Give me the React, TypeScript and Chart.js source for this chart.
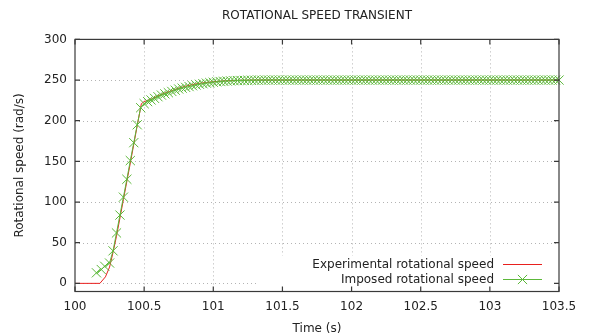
import { useEffect, useRef } from "react";
import { Chart, registerables } from "chart.js";

Chart.register(...registerables);

const chartTitle = "ROTATIONAL SPEED TRANSIENT";
const xAxisTitle = "Time (s)";
const yAxisTitle = "Rotational speed (rad/s)";
const seriesNames = ["Experimental rotational speed", "Imposed rotational speed"];

const xTicks = [100, 100.5, 101, 101.5, 102, 102.5, 103, 103.5];
const xTickLabels = ["100", "100.5", "101", "101.5", "102", "102.5", "103", "103.5"];
const yTicks = [0, 50, 100, 150, 200, 250, 300];
const yTickLabels = ["0", "50", "100", "150", "200", "250", "300"];

const expTime = [
  100, 100.18, 100.22, 100.25, 100.275, 100.3, 100.35, 100.4, 100.45, 100.48,
  100.5, 100.55, 100.6, 100.65, 100.7, 100.75, 100.8, 100.85, 100.9, 100.95,
  101, 101.1, 101.2, 101.3, 101.5, 102, 102.5, 103, 103.5,
];
const expSpeed = [
  0, 0, 8, 20, 38, 58, 103, 148, 194, 221,
  223.5, 226.5, 230.5, 234, 237, 240, 242.5, 244.5, 246, 247,
  248, 249.2, 249.7, 250, 250, 250, 250, 250, 250,
];

const impTime = [
  100.155, 100.19, 100.215, 100.25,
  100.275, 100.3, 100.325, 100.35, 100.375, 100.4, 100.425, 100.45, 100.475, 100.5,
  100.525, 100.55, 100.575, 100.6, 100.625, 100.65, 100.675, 100.7, 100.725, 100.75,
  100.775, 100.8, 100.825, 100.85, 100.875, 100.9, 100.925, 100.95, 100.975, 101,
  101.025, 101.05, 101.075, 101.1, 101.125, 101.15, 101.175, 101.2, 101.225, 101.25,
  101.275, 101.3, 101.325, 101.35, 101.375, 101.4, 101.425, 101.45, 101.475, 101.5,
  101.525, 101.55, 101.575, 101.6, 101.625, 101.65, 101.675, 101.7, 101.725, 101.75,
  101.775, 101.8, 101.825, 101.85, 101.875, 101.9, 101.925, 101.95, 101.975, 102,
  102.025, 102.05, 102.075, 102.1, 102.125, 102.15, 102.175, 102.2, 102.225, 102.25,
  102.275, 102.3, 102.325, 102.35, 102.375, 102.4, 102.425, 102.45, 102.475, 102.5,
  102.525, 102.55, 102.575, 102.6, 102.625, 102.65, 102.675, 102.7, 102.725, 102.75,
  102.775, 102.8, 102.825, 102.85, 102.875, 102.9, 102.925, 102.95, 102.975, 103,
  103.025, 103.05, 103.075, 103.1, 103.125, 103.15, 103.175, 103.2, 103.225, 103.25,
  103.275, 103.3, 103.325, 103.35, 103.375, 103.4, 103.425, 103.45, 103.475, 103.5,
];
const impSpeed = [
  13, 17, 21, 25,
  40, 62, 84, 106, 128, 151, 173, 195, 216, 221,
  223.5, 225.5, 227.5, 229.5, 231.5, 233, 234.5, 236, 237.5, 239,
  240, 241, 242, 243, 244, 244.8, 245.5, 246.2, 246.8, 247.3,
  247.8, 248.2, 248.5, 248.8, 249, 249.2, 249.4, 249.5, 249.6, 249.7,
  249.8, 249.8, 249.9, 249.9, 250, 250, 250, 250, 250, 250,
  250, 250, 250, 250, 250, 250, 250, 250, 250, 250,
  250, 250, 250, 250, 250, 250, 250, 250, 250, 250,
  250, 250, 250, 250, 250, 250, 250, 250, 250, 250,
  250, 250, 250, 250, 250, 250, 250, 250, 250, 250,
  250, 250, 250, 250, 250, 250, 250, 250, 250, 250,
  250, 250, 250, 250, 250, 250, 250, 250, 250, 250,
  250, 250, 250, 250, 250, 250, 250, 250, 250, 250,
  250, 250, 250, 250, 250, 250, 250, 250, 250, 250,
];

const FONT = "DejaVu Sans";
const TEXT = "#222222";
const RED = "#e8201e";
const GREEN = "#5cb83a";
const MARKER_R = 6.5;

const framePlugin = {
  id: "gnuplotFrame",
  beforeDatasetsDraw(chart: any) {
    const { ctx, chartArea } = chart;
    const { left, right, top, bottom } = chartArea;
    const xs = chart.scales.x;
    const ys = chart.scales.y;
    ctx.save();
    ctx.strokeStyle = "#b4b4b4";
    ctx.lineWidth = 1;
    ctx.setLineDash([1, 3]);
    xTicks.forEach((v) => {
      const px = Math.round(xs.getPixelForValue(v)) + 0.5;
      if (px <= left + 1 || px >= right - 1) return;
      ctx.beginPath();
      ctx.moveTo(px, top);
      ctx.lineTo(px, bottom);
      ctx.stroke();
    });
    yTicks.forEach((v) => {
      const py = Math.round(ys.getPixelForValue(v)) + 0.5;
      if (py <= top + 1 || py >= bottom - 1) return;
      ctx.beginPath();
      ctx.moveTo(left, py);
      ctx.lineTo(right, py);
      ctx.stroke();
    });
    ctx.setLineDash([]);
    // opaque legend box
    ctx.fillStyle = "#ffffff";
    ctx.fillRect(right - 300, bottom - 36, 300, 36);
    ctx.restore();
  },
  afterDatasetsDraw(chart: any) {
    const { ctx, chartArea } = chart;
    const { left, right, top, bottom } = chartArea;
    const xs = chart.scales.x;
    const ys = chart.scales.y;
    ctx.save();
    ctx.setLineDash([]);
    ctx.strokeStyle = "#3a3a3a";
    ctx.lineWidth = 1.2;
    ctx.strokeRect(left, top, right - left, bottom - top);
    const tl = 5;
    ctx.beginPath();
    xTicks.forEach((v) => {
      const px = xs.getPixelForValue(v);
      ctx.moveTo(px, bottom);
      ctx.lineTo(px, bottom - tl);
      ctx.moveTo(px, top);
      ctx.lineTo(px, top + tl);
    });
    yTicks.forEach((v) => {
      const py = ys.getPixelForValue(v);
      ctx.moveTo(left, py);
      ctx.lineTo(left + tl, py);
      ctx.moveTo(right, py);
      ctx.lineTo(right - tl, py);
    });
    ctx.stroke();
    ctx.restore();

    // legend
    ctx.save();
    ctx.font = `12px "${FONT}"`;
    ctx.fillStyle = TEXT;
    ctx.textAlign = "right";
    ctx.textBaseline = "middle";
    const textX = Math.round(right - 65);
    const x0 = Math.round(right - 56);
    const x1 = Math.round(right - 17);
    const y0 = Math.round(bottom - 28);
    const y1 = Math.round(bottom - 13);
    ctx.fillText(seriesNames[0], textX, y0 + 0.5);
    ctx.fillText(seriesNames[1], textX, y1 + 0.5);
    ctx.fillStyle = RED;
    ctx.fillRect(x0, y0, x1 - x0, 1);
    ctx.fillStyle = GREEN;
    ctx.fillRect(x0, y1, x1 - x0, 1);
    ctx.strokeStyle = GREEN;
    ctx.lineWidth = 1;
    const cx = (x0 + x1) / 2;
    const cy = y1 + 0.5;
    const d = MARKER_R * Math.SQRT1_2;
    ctx.beginPath();
    ctx.moveTo(cx - d, cy - d);
    ctx.lineTo(cx + d, cy + d);
    ctx.moveTo(cx - d, cy + d);
    ctx.lineTo(cx + d, cy - d);
    ctx.stroke();
    ctx.restore();
  },
};

export default function App() {
  const ref = useRef<HTMLCanvasElement | null>(null);

  useEffect(() => {
    if (!ref.current) return;
    const font = { family: FONT, size: 12 };
    const chart = new Chart(ref.current, {
      type: "line",
      data: {
        datasets: [
          {
            label: seriesNames[1],
            data: impTime.map((t, i) => ({ x: t, y: impSpeed[i] })),
            borderColor: GREEN,
            backgroundColor: GREEN,
            borderWidth: 1,
            pointStyle: "crossRot",
            pointRadius: MARKER_R,
            pointBorderWidth: 1,
            pointBorderColor: GREEN,
            tension: 0,
            clip: false as any,
          },
          {
            label: seriesNames[0],
            data: expTime.map((t, i) => ({ x: t, y: expSpeed[i] })),
            borderColor: RED,
            backgroundColor: RED,
            borderWidth: 1,
            pointRadius: 0,
            tension: 0,
          },
        ],
      },
      options: {
        animation: false,
        responsive: false,
        devicePixelRatio: 1,
        layout: { padding: { left: 0, right: 30, top: 0, bottom: 0 } },
        plugins: {
          legend: { display: false },
          tooltip: { enabled: false },
          title: {
            display: true,
            text: chartTitle,
            fullSize: false,
            color: TEXT,
            font: { ...font, weight: "normal" },
            padding: { top: 9, bottom: 16 },
          },
        },
        scales: {
          x: {
            type: "linear",
            min: 100,
            max: 103.5,
            afterBuildTicks: (s: any) => {
              s.ticks = xTicks.map((v) => ({ value: v }));
            },
            afterFit: (s: any) => {
              s.height = 44.5;
            },
            grid: { display: false, drawTicks: false },
            border: { display: false },
            ticks: {
              autoSkip: false,
              maxRotation: 0,
              padding: 8,
              color: TEXT,
              font,
              callback: (_v: any, i: number) => xTickLabels[i],
            },
            title: {
              display: true,
              text: xAxisTitle,
              color: TEXT,
              font,
              padding: { top: 0, bottom: 0 },
            },
          },
          y: {
            type: "linear",
            min: -10,
            max: 300,
            afterBuildTicks: (s: any) => {
              s.ticks = yTicks.map((v) => ({ value: v }));
            },
            afterFit: (s: any) => {
              s.width = 75;
            },
            grid: { display: false, drawTicks: false },
            border: { display: false },
            ticks: {
              autoSkip: false,
              padding: 8,
              color: TEXT,
              font,
              callback: (_v: any, i: number) => yTickLabels[i],
            },
            title: {
              display: true,
              text: yAxisTitle,
              color: TEXT,
              font,
              padding: { top: 13, bottom: 0 },
            },
          },
        },
      },
      plugins: [framePlugin],
    });
    return () => chart.destroy();
  }, []);

  return (
    <div style={{ position: "fixed", left: 0, top: 0, width: 589, height: 336, background: "#fff" }}>
      <canvas ref={ref} width={589} height={336} />
    </div>
  );
}
